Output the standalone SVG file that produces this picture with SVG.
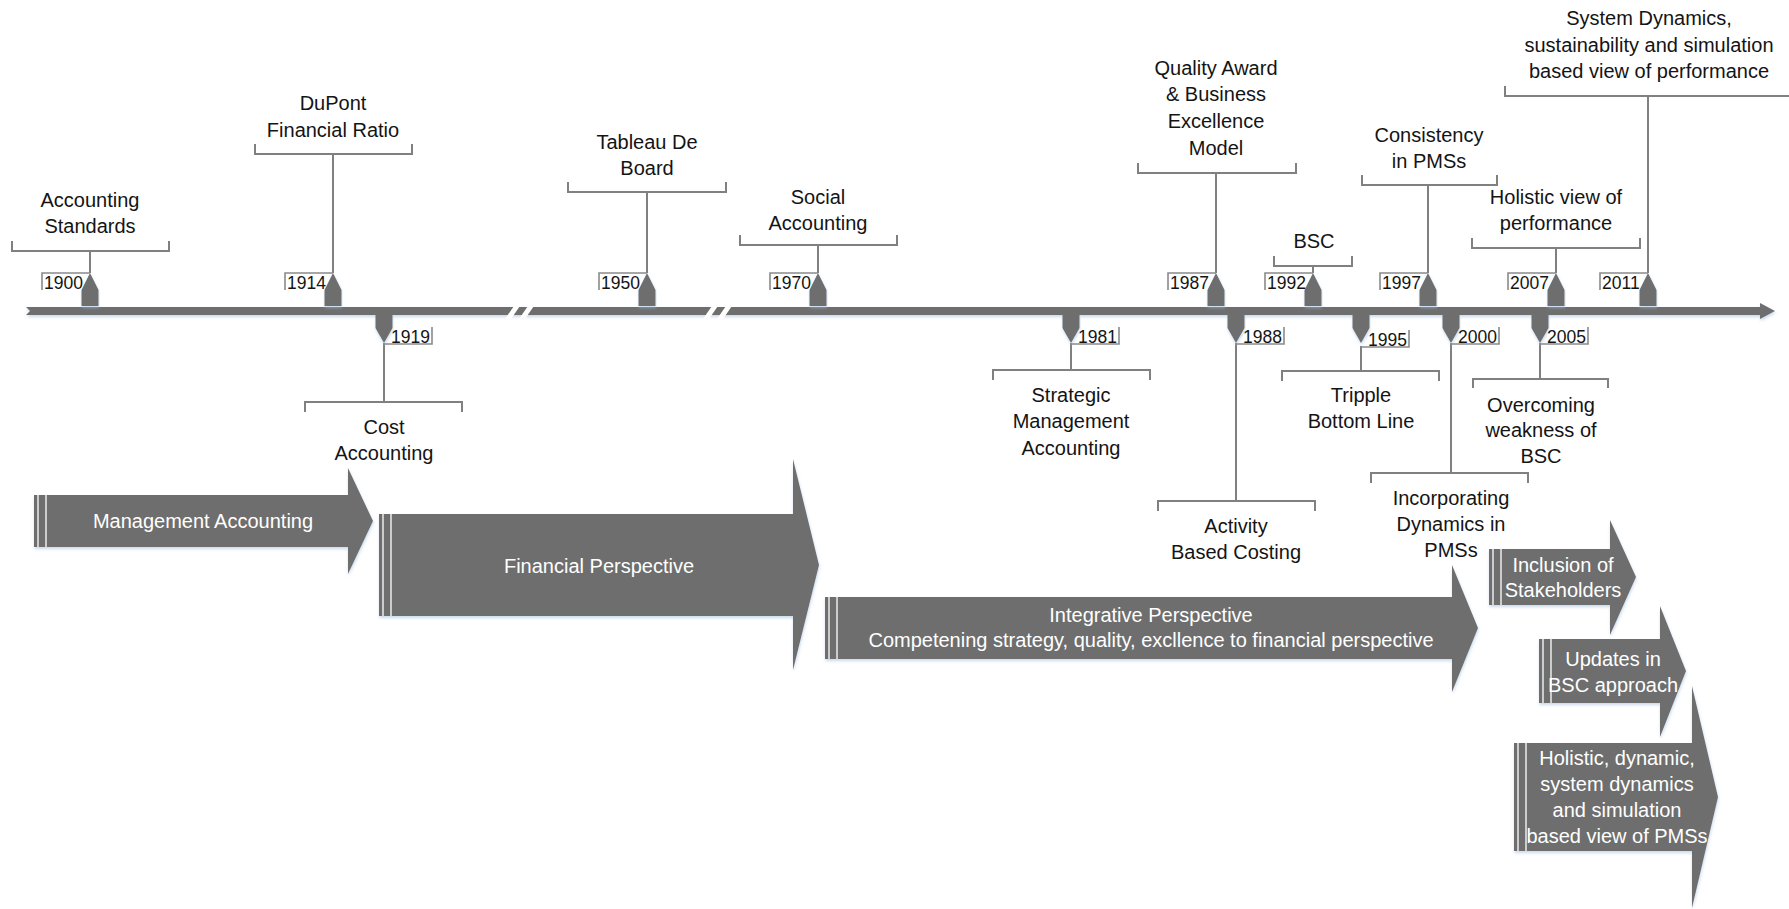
<svg xmlns="http://www.w3.org/2000/svg" xmlns:xlink="http://www.w3.org/1999/xlink" width="1789" height="909" viewBox="0 0 1789 909">
  <defs>
    <style>
      .lbl { font-family: "Liberation Sans", Arial, sans-serif; font-size: 20px; fill: #141414; text-anchor: middle; }
      .yr { font-family: "Liberation Sans", Arial, sans-serif; font-size: 17.5px; fill: #141414; }
      .yrd { text-anchor: end; }
      .atx { font-family: "Liberation Sans", Arial, sans-serif; font-size: 20px; fill: #ffffff; text-anchor: middle; }
      .br { fill: none; stroke: #808080; stroke-width: 2; }
      .stem { fill: none; stroke: #808080; stroke-width: 2; }
      .tag { fill: none; stroke: #8a8a8a; stroke-width: 1.6; }
      .mk { fill: #6e6e6e; }
      .blk { fill: #6e6e6e; }
      .stripe { stroke: #ffffff; stroke-width: 1.3; }
      .gap { fill: #ffffff; }
    </style>
    <filter id="glow" x="-5%" y="-30%" width="110%" height="180%">
      <feDropShadow dx="0.5" dy="2" stdDeviation="1.6" flood-color="#9dbbdf" flood-opacity="0.55"/>
    </filter>
    <!-- marker shapes, drawn relative to the year position on the axis -->
    <path id="mkUp" d="M-8.5,306 V290 L0,273 L8.5,290 V306 Z"/>
    <path id="mkDown" d="M-8.5,315 V328 L0,343 L8.5,328 V315 Z"/>
    <path id="tagUp" d="M-48,290 V273 H0"/>
    <path id="tagDown" d="M48,327 V344 H0"/>
  </defs>

  <rect width="1789" height="909" fill="#ffffff"/>

  <!-- time axis with two scale breaks -->
  <g id="axis">
    <polygon class="blk" filter="url(#glow)" points="26,307 1760,307 1760,303 1775,311 1760,319 1760,315 26,315 30,311"/>
    <polygon class="gap" points="505,319 511,319 522,303 516,303"/>
    <polygon class="gap" points="519,319 525,319 536,303 530,303"/>
    <polygon class="gap" points="703,319 709,319 720,303 714,303"/>
    <polygon class="gap" points="717,319 723,319 734,303 728,303"/>
  </g>

  <!-- stems linking each year marker to its callout bracket -->
  <g id="connectors">
    <line class="stem" x1="90" y1="251" x2="90" y2="273"/>
    <line class="stem" x1="333" y1="154" x2="333" y2="273"/>
    <line class="stem" x1="647" y1="192" x2="647" y2="273"/>
    <line class="stem" x1="818" y1="245" x2="818" y2="273"/>
    <line class="stem" x1="1216" y1="173" x2="1216" y2="273"/>
    <line class="stem" x1="1313" y1="266" x2="1313" y2="273"/>
    <line class="stem" x1="1428" y1="185" x2="1428" y2="273"/>
    <line class="stem" x1="1556" y1="248" x2="1556" y2="273"/>
    <line class="stem" x1="1648" y1="96" x2="1648" y2="273"/>
    <line class="stem" x1="384" y1="343" x2="384" y2="402"/>
    <line class="stem" x1="1071" y1="343" x2="1071" y2="370"/>
    <line class="stem" x1="1236" y1="343" x2="1236" y2="501"/>
    <line class="stem" x1="1361" y1="346" x2="1361" y2="371"/>
    <line class="stem" x1="1451" y1="343" x2="1451" y2="473"/>
    <line class="stem" x1="1540" y1="343" x2="1540" y2="379"/>
  </g>

  <!-- events above the axis -->
  <g id="y1900">
    <use href="#mkUp" x="90" class="mk" filter="url(#glow)"/>
    <use href="#tagUp" x="90" class="tag"/>
    <text class="yr" x="44" y="289">1900</text>
    <path class="br" d="M12,241 V251 H169 V241"/>
    <text class="lbl" x="90"><tspan x="90" y="207">Accounting</tspan><tspan x="90" y="233">Standards</tspan></text>
  </g>
  <g id="y1914">
    <use href="#mkUp" x="333" class="mk" filter="url(#glow)"/>
    <use href="#tagUp" x="333" class="tag"/>
    <text class="yr" x="287" y="289">1914</text>
    <path class="br" d="M255,144 V154 H412 V144"/>
    <text class="lbl"><tspan x="333" y="110">DuPont</tspan><tspan x="333" y="137">Financial Ratio</tspan></text>
  </g>
  <g id="y1950">
    <use href="#mkUp" x="647" class="mk" filter="url(#glow)"/>
    <use href="#tagUp" x="647" class="tag"/>
    <text class="yr" x="601" y="289">1950</text>
    <path class="br" d="M568,182 V192 H726 V182"/>
    <text class="lbl"><tspan x="647" y="149">Tableau De</tspan><tspan x="647" y="175">Board</tspan></text>
  </g>
  <g id="y1970">
    <use href="#mkUp" x="818" class="mk" filter="url(#glow)"/>
    <use href="#tagUp" x="818" class="tag"/>
    <text class="yr" x="772" y="289">1970</text>
    <path class="br" d="M740,235 V245 H897 V235"/>
    <text class="lbl"><tspan x="818" y="204">Social</tspan><tspan x="818" y="230">Accounting</tspan></text>
  </g>
  <g id="y1987">
    <use href="#mkUp" x="1216" class="mk" filter="url(#glow)"/>
    <use href="#tagUp" x="1216" class="tag"/>
    <text class="yr" x="1170" y="289">1987</text>
    <path class="br" d="M1138,163 V173 H1296 V163"/>
    <text class="lbl"><tspan x="1216" y="75">Quality Award</tspan><tspan x="1216" y="101">&amp; Business</tspan><tspan x="1216" y="128">Excellence</tspan><tspan x="1216" y="155">Model</tspan></text>
  </g>
  <g id="y1992">
    <use href="#mkUp" x="1313" class="mk" filter="url(#glow)"/>
    <use href="#tagUp" x="1313" class="tag"/>
    <text class="yr" x="1267" y="289">1992</text>
    <path class="br" d="M1274,256 V266 H1352 V256"/>
    <text class="lbl" x="1314" y="248">BSC</text>
  </g>
  <g id="y1997">
    <use href="#mkUp" x="1428" class="mk" filter="url(#glow)"/>
    <use href="#tagUp" x="1428" class="tag"/>
    <text class="yr" x="1382" y="289">1997</text>
    <path class="br" d="M1362,175 V185 H1497 V175"/>
    <text class="lbl"><tspan x="1429" y="142">Consistency</tspan><tspan x="1429" y="168">in PMSs</tspan></text>
  </g>
  <g id="y2007">
    <use href="#mkUp" x="1556" class="mk" filter="url(#glow)"/>
    <use href="#tagUp" x="1556" class="tag"/>
    <text class="yr" x="1510" y="289">2007</text>
    <path class="br" d="M1472,238 V248 H1640 V238"/>
    <text class="lbl"><tspan x="1556" y="204">Holistic view of</tspan><tspan x="1556" y="230">performance</tspan></text>
  </g>
  <g id="y2011">
    <use href="#mkUp" x="1648" class="mk" filter="url(#glow)"/>
    <use href="#tagUp" x="1648" class="tag"/>
    <text class="yr" x="1602" y="289">2011</text>
    <path class="br" d="M1505,86 V96 H1791 V86"/>
    <text class="lbl"><tspan x="1649" y="25">System Dynamics,</tspan><tspan x="1649" y="52">sustainability and simulation</tspan><tspan x="1649" y="78">based view of performance</tspan></text>
  </g>

  <!-- events below the axis -->
  <g id="y1919">
    <use href="#mkDown" x="384" class="mk" filter="url(#glow)"/>
    <use href="#tagDown" x="384" class="tag"/>
    <text class="yr yrd" x="430" y="343">1919</text>
    <path class="br" d="M305,412 V402 H462 V412"/>
    <text class="lbl"><tspan x="384" y="434">Cost</tspan><tspan x="384" y="460">Accounting</tspan></text>
  </g>
  <g id="y1981">
    <use href="#mkDown" x="1071" class="mk" filter="url(#glow)"/>
    <use href="#tagDown" x="1071" class="tag"/>
    <text class="yr yrd" x="1117" y="343">1981</text>
    <path class="br" d="M993,380 V370 H1150 V380"/>
    <text class="lbl"><tspan x="1071" y="402">Strategic</tspan><tspan x="1071" y="428">Management</tspan><tspan x="1071" y="455">Accounting</tspan></text>
  </g>
  <g id="y1988">
    <use href="#mkDown" x="1236" class="mk" filter="url(#glow)"/>
    <use href="#tagDown" x="1236" class="tag"/>
    <text class="yr yrd" x="1282" y="343">1988</text>
    <path class="br" d="M1158,511 V501 H1315 V511"/>
    <text class="lbl"><tspan x="1236" y="533">Activity</tspan><tspan x="1236" y="559">Based Costing</tspan></text>
  </g>
  <g id="y1995">
    <use href="#mkDown" x="1361" class="mk" filter="url(#glow)"/>
    <use href="#tagDown" x="1361" y="3" class="tag"/>
    <text class="yr yrd" x="1407" y="346">1995</text>
    <path class="br" d="M1282,381 V371 H1439 V381"/>
    <text class="lbl"><tspan x="1361" y="402">Tripple</tspan><tspan x="1361" y="428">Bottom Line</tspan></text>
  </g>
  <g id="y2000">
    <use href="#mkDown" x="1451" class="mk" filter="url(#glow)"/>
    <use href="#tagDown" x="1451" class="tag"/>
    <text class="yr yrd" x="1497" y="343">2000</text>
    <path class="br" d="M1371,483 V473 H1528 V483"/>
    <text class="lbl"><tspan x="1451" y="505">Incorporating</tspan><tspan x="1451" y="531">Dynamics in</tspan><tspan x="1451" y="557">PMSs</tspan></text>
  </g>
  <g id="y2005">
    <use href="#mkDown" x="1540" class="mk" filter="url(#glow)"/>
    <use href="#tagDown" x="1540" class="tag"/>
    <text class="yr yrd" x="1586" y="343">2005</text>
    <path class="br" d="M1473,388 V379 H1608 V388"/>
    <text class="lbl"><tspan x="1541" y="412">Overcoming</tspan><tspan x="1541" y="437">weakness of</tspan><tspan x="1541" y="463">BSC</tspan></text>
  </g>

  <!-- perspective phases as block arrows -->
  <g id="phase-management">
    <polygon class="blk" filter="url(#glow)" points="34,495 348,495 348,468 373,521 348,574 348,547 34,547"/>
    <line class="stripe" x1="38" y1="495" x2="38" y2="547"/>
    <line class="stripe" x1="46" y1="495" x2="46" y2="547"/>
    <text class="atx" x="203" y="528">Management Accounting</text>
  </g>
  <g id="phase-financial">
    <polygon class="blk" filter="url(#glow)" points="379,514 793,514 793,459 819,565 793,670 793,616 379,616"/>
    <line class="stripe" x1="383" y1="514" x2="383" y2="616"/>
    <line class="stripe" x1="391" y1="514" x2="391" y2="616"/>
    <text class="atx" x="599" y="573">Financial Perspective</text>
  </g>
  <g id="phase-integrative">
    <polygon class="blk" filter="url(#glow)" points="825,597 1452,597 1452,565 1478,628 1452,692 1452,659 825,659"/>
    <line class="stripe" x1="829" y1="597" x2="829" y2="659"/>
    <line class="stripe" x1="837" y1="597" x2="837" y2="659"/>
    <text class="atx"><tspan x="1151" y="622">Integrative Perspective</tspan><tspan x="1151" y="647">Competening strategy, quality, excllence to financial perspective</tspan></text>
  </g>
  <g id="phase-stakeholders">
    <polygon class="blk" filter="url(#glow)" points="1489,549 1610,549 1610,520 1636,577 1610,635 1610,605 1489,605"/>
    <line class="stripe" x1="1493" y1="549" x2="1493" y2="605"/>
    <line class="stripe" x1="1501" y1="549" x2="1501" y2="605"/>
    <text class="atx"><tspan x="1563" y="572">Inclusion of</tspan><tspan x="1563" y="597">Stakeholders</tspan></text>
  </g>
  <g id="phase-bsc-updates">
    <polygon class="blk" filter="url(#glow)" points="1539,639 1660,639 1660,606 1686,671 1660,737 1660,703 1539,703"/>
    <line class="stripe" x1="1543" y1="639" x2="1543" y2="703"/>
    <line class="stripe" x1="1551" y1="639" x2="1551" y2="703"/>
    <text class="atx"><tspan x="1613" y="666">Updates in</tspan><tspan x="1613" y="692">BSC approach</tspan></text>
  </g>
  <g id="phase-holistic">
    <polygon class="blk" filter="url(#glow)" points="1514,743 1692,743 1692,686 1718,797 1692,908 1692,851 1514,851"/>
    <line class="stripe" x1="1518" y1="743" x2="1518" y2="851"/>
    <line class="stripe" x1="1526" y1="743" x2="1526" y2="851"/>
    <text class="atx"><tspan x="1617" y="765">Holistic, dynamic,</tspan><tspan x="1617" y="791">system dynamics</tspan><tspan x="1617" y="817">and simulation</tspan><tspan x="1617" y="843">based view of PMSs</tspan></text>
  </g>
</svg>
